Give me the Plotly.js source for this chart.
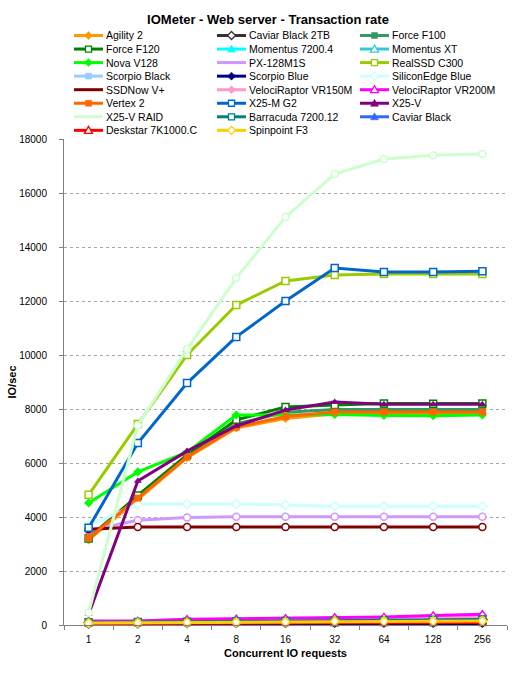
<!DOCTYPE html>
<html><head><meta charset="utf-8">
<script src="https://cdn.plot.ly/plotly-3.0.1.min.js"></script>
<style>html,body{margin:0;padding:0;background:#fff}#chart{width:513px;height:673px}</style>
</head><body><div id="chart"></div>
<script>
// ---- data ----
const requests = ['1','2','4','8','16','32','64','128','256'];
const seriesNames = ['Agility 2','Caviar Black 2TB','Force F100','Force F120','Momentus 7200.4','Momentus XT',
  'Nova V128','PX-128M1S','RealSSD C300','Scorpio Black','Scorpio Blue','SiliconEdge Blue',
  'SSDNow V+','VelociRaptor VR150M','VelociRaptor VR200M','Vertex 2','X25-M G2','X25-V',
  'X25-V RAID','Barracuda 7200.12','Caviar Black','Deskstar 7K1000.C','Spinpoint F3'];
const agility2      = [3150, 4650, 6200, 7300, 7650, 7820, 7820, 7830, 7830];
const caviarBlack2TB= [90, 100, 110, 120, 140, 160, 180, 190, 200];
const forceF100     = [3250, 4750, 6280, 7450, 7880, 7980, 7980, 7980, 7980];
const forceF120     = [3200, 4800, 6300, 7600, 8070, 8150, 8200, 8190, 8200];
const momentus72004 = [60, 70, 80, 90, 100, 110, 110, 120, 120];
const momentusXT    = [80, 90, 90, 100, 100, 20, 40, 30, 40];
const novaV128      = [4520, 5670, 6400, 7780, 7780, 7800, 7760, 7750, 7780];
const px128M1S      = [3500, 3880, 3980, 4010, 4010, 4010, 4010, 4010, 4010];
const realSSDC300   = [4820, 7440, 10000, 11850, 12740, 12960, 13000, 13000, 13000];
const scorpioBlack  = [50, 60, 60, 70, 70, 80, 80, 80, 80];
const scorpioBlue   = [20, 30, 40, 50, 50, 60, 60, 60, 60];
const siliconEdge   = [3700, 4480, 4480, 4480, 4440, 4400, 4400, 4400, 4400];
const ssdNowVPlus   = [3550, 3630, 3630, 3630, 3630, 3630, 3630, 3630, 3630];
const vr150M        = [120, 130, 160, 190, 210, 230, 250, 280, 310];
const vr200M        = [150, 150, 210, 230, 250, 290, 300, 350, 400];
const vertex2       = [3220, 4700, 6220, 7330, 7720, 7890, 7890, 7890, 7890];
const x25MG2        = [3600, 6740, 8960, 10670, 12000, 13220, 13070, 13070, 13100];
const x25V          = [400, 5330, 6440, 7370, 7960, 8260, 8180, 8180, 8180];
const x25VRaid      = [450, 7400, 10220, 12850, 15110, 16700, 17260, 17400, 17440];
const barracuda     = [100, 110, 120, 140, 150, 160, 180, 190, 200];
const caviarBlack   = [70, 80, 90, 100, 110, 120, 130, 140, 150];
const deskstar      = [50, 60, 60, 70, 70, 80, 80, 90, 90];
const spinpointF3   = [70, 80, 90, 100, 110, 140, 140, 140, 150];
const seriesValues = [agility2, caviarBlack2TB, forceF100, forceF120, momentus72004, momentusXT,
  novaV128, px128M1S, realSSDC300, scorpioBlack, scorpioBlue, siliconEdge,
  ssdNowVPlus, vr150M, vr200M, vertex2, x25MG2, x25V,
  x25VRaid, barracuda, caviarBlack, deskstar, spinpointF3];
const yTicks = [0, 2000, 4000, 6000, 8000, 10000, 12000, 14000, 16000, 18000];

// ---- styles ----
const seriesColors = ['#ff9900','#333333','#339966','#008000','#00ffff','#33cccc',
  '#00ff00','#cc99ff','#99cc00','#99ccff','#000080','#ccffff',
  '#800000','#ff99cc','#ff00ff','#ff6600','#0066cc','#800080',
  '#ccffcc','#008080','#3366ff','#ff0000','#ffcc00'];
const seriesSymbols = ['diamond','diamond','square','square','triangle-up','triangle-up',
  'diamond','circle','square','square','diamond','diamond',
  'circle','diamond','triangle-up','square','square','triangle-up',
  'circle','square','triangle-up','triangle-up','diamond'];
const seriesOpen = [false,true,false,true,false,true,
  false,true,true,false,false,true,
  true,false,true,false,true,false,
  true,true,false,true,true];

const FONT = 'Liberation Sans, Arial, sans-serif';
const traces = seriesNames.map((n,i)=>({
  type:'scatter', mode:'lines+markers', name:n, x:requests, y:seriesValues[i],
  line:{color:seriesColors[i], width:3},
  marker:{symbol:seriesSymbols[i], size:7,
    color: seriesOpen[i] ? '#ffffff' : seriesColors[i],
    line:{color:seriesColors[i], width: seriesOpen[i] ? 1.5 : 0}},
  showlegend:false, cliponaxis:false
}));

// ---- custom legend (layout geometry) ----
const L = 64, R = 507, T = 139, B = 625;
const px2x = p => (p - L) / (R - L);
const py2y = p => (B - p) / (B - T);
const shapes = [], annotations = [];
function markerPath(sym){
  if (sym === 'diamond') return 'M0,4L4,0L0,-4L-4,0Z';
  if (sym === 'triangle-up') return 'M-4,-3L4,-3L0,4Z';
  if (sym === 'circle') return 'M3.5,0A3.5,3.5 0 1,1 -3.5,0A3.5,3.5 0 1,1 3.5,0Z';
  return 'M-3,-3L3,-3L3,3L-3,3Z';
}
seriesNames.forEach((n,i)=>{
  const row = Math.floor(i/3), col = i%3;
  const x0 = 74 + col*143, x1 = x0 + 29, cy = 35.5 + row*13.55;
  shapes.push({type:'line', xref:'paper', yref:'paper', x0:px2x(x0), x1:px2x(x1), y0:py2y(cy), y1:py2y(cy),
    line:{color:seriesColors[i], width:3}});
  shapes.push({type:'path', xref:'paper', yref:'paper', xsizemode:'pixel', ysizemode:'pixel',
    xanchor:px2x((x0+x1)/2), yanchor:py2y(cy), path:markerPath(seriesSymbols[i]),
    fillcolor: seriesOpen[i] ? '#ffffff' : seriesColors[i],
    line:{color:seriesColors[i], width: seriesOpen[i] ? 1.3 : 0.5}});
  annotations.push({xref:'paper', yref:'paper', x:px2x(x1+1), y:py2y(cy), xanchor:'left', yanchor:'middle',
    text:n, showarrow:false, font:{family:FONT, size:10.5, color:'#000'}});
});

const layout = {
  width:513, height:673,
  margin:{l:L, r:513-R, t:T, b:673-B},
  paper_bgcolor:'#fff', plot_bgcolor:'#fff',
  font:{family:FONT, size:10, color:'#000'},
  title:{text:'<b>IOMeter - Web server - Transaction rate</b>', font:{family:FONT, size:13, color:'#000'},
    xref:'container', yref:'container', x:268/513, xanchor:'center', y:1-19/673, yanchor:'middle'},
  xaxis:{type:'category', range:[-0.5, 8.5], showgrid:false, zeroline:false,
    showline:true, linecolor:'#808080', linewidth:1,
    ticks:'outside', tickson:'boundaries', ticklen:4, tickcolor:'#808080', ticklabelstandoff:5,
    tickfont:{family:FONT, size:10, color:'#000'},
    title:{text:'<b>Concurrent IO requests</b>', font:{family:FONT, size:11, color:'#000'}, standoff:5}},
  yaxis:{range:[0,18000], tickvals:yTicks, ticktext:yTicks.map(String), showgrid:true, gridcolor:'#a6a6a6', griddash:'dot', gridwidth:1,
    zeroline:false, showline:true, linecolor:'#808080', linewidth:1,
    ticks:'outside', ticklen:4, tickcolor:'#808080', ticklabelstandoff:10,
    tickfont:{family:FONT, size:10, color:'#000'},
    title:{text:'<b>IO/sec</b>', font:{family:FONT, size:11, color:'#000'}, standoff:0}},
  shapes, annotations, showlegend:false
};
Plotly.newPlot('chart', traces, layout, {displayModeBar:false, staticPlot:true});
</script></body></html>
